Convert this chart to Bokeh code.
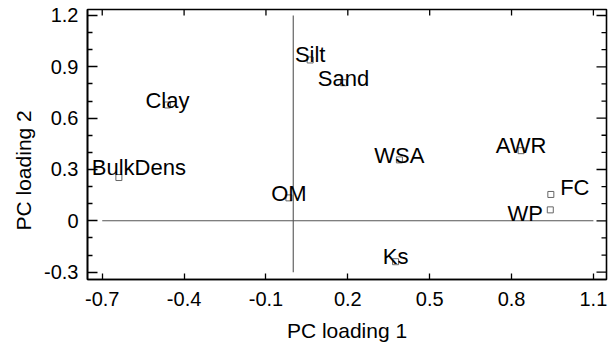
import numpy as np
from bokeh.plotting import figure
from bokeh.models import Range1d, FixedTicker, LinearAxis, ColumnDataSource, Title
from bokeh.embed import file_html
from bokeh.resources import INLINE
from bokeh.core.properties import value

# ---- data ----
variables = ["Clay", "BulkDens", "OM", "Silt", "Sand", "WSA", "AWR", "FC", "WP", "Ks"]
pc1 = [-0.461, -0.639, -0.016, 0.062, 0.184, 0.389, 0.835, 0.944, 0.942, 0.375]
pc2 = [0.677, 0.253, 0.134, 0.940, 0.807, 0.356, 0.410, 0.154, 0.064, -0.239]

x_ticks = [-0.7, -0.4, -0.1, 0.2, 0.5, 0.8, 1.1]
x_tick_labels = ["-0.7", "-0.4", "-0.1", "0.2", "0.5", "0.8", "1.1"]
y_ticks = [-0.3, 0.0, 0.3, 0.6, 0.9, 1.2]
y_tick_labels = ["-0.3", "0", "0.3", "0.6", "0.9", "1.2"]

x_title = "PC loading 1"
y_title = "PC loading 2"

# label placement offsets (pixels)
label_dx = [0, 20, 0, 0, 0, 0, 0, 24, -25, 0]
label_dy = [-4.5, -10, -4.5, -5, -4.7, -4.3, -5, -6.7, 4, -5]

FONT = "Liberation Sans"

y_minor = [round(v, 2) for v in np.arange(y_ticks[0], y_ticks[-1] + 1e-9, 0.1)
           if not any(abs(v - t) < 1e-6 for t in y_ticks)]

src = ColumnDataSource(dict(x=pc1, y=pc2, name=variables, dx=label_dx, dy=label_dy))

X0, X1 = -0.754, 1.148
Y0, Y1 = -0.343, 1.235

p = figure(width=608, height=346, output_backend="svg", toolbar_location=None,
           x_range=Range1d(X0, X1), y_range=Range1d(Y0, Y1),
           min_border_left=87, min_border_right=2, min_border_top=9, min_border_bottom=67,
           x_axis_type=None, y_axis_type=None)
p.grid.visible = False
p.outline_line_color = "black"
p.outline_line_width = 1.6
p.background_fill_color = "white"
p.border_fill_color = "white"

xt = FixedTicker(ticks=x_ticks)
yt = FixedTicker(ticks=y_ticks, minor_ticks=y_minor)

def style_axis(ax, tick_len, minor_len):
    ax.axis_line_color = "black"
    ax.axis_line_width = 1.6
    ax.major_tick_line_color = "black"
    ax.major_tick_line_width = 1.3
    ax.major_tick_in = tick_len
    ax.major_tick_out = 0
    if minor_len:
        ax.minor_tick_line_color = "black"
        ax.minor_tick_line_width = 1.3
        ax.minor_tick_in = minor_len
        ax.minor_tick_out = 0
    else:
        ax.minor_tick_line_color = None
    ax.major_label_text_font = FONT
    ax.major_label_text_font_size = "20px"
    ax.major_label_text_color = "black"

bottom = LinearAxis(ticker=xt, major_label_overrides=dict(zip(x_ticks, x_tick_labels)))
style_axis(bottom, 6, 0)
bottom.major_label_standoff = 12
bottom.axis_label = x_title
bottom.axis_label_text_font = FONT
bottom.axis_label_text_font_size = "21px"
bottom.axis_label_text_font_style = "normal"
bottom.axis_label_text_color = "black"
bottom.axis_label_standoff = 10
p.add_layout(bottom, "below")

left = LinearAxis(ticker=yt, major_label_overrides=dict(zip(y_ticks, y_tick_labels)))
style_axis(left, 10, 5)
left.major_label_standoff = 9
p.add_layout(left, "left")

ytitle = Title(text=y_title, align="left", offset=49, vertical_align="bottom", standoff=14,
               text_font=FONT, text_font_size="21px", text_font_style="normal",
               text_color="black")
p.add_layout(ytitle, "left")

# mirror ticks on the top and right frame edges
p.ray(x=x_ticks, y=[Y1] * len(x_ticks), length=6, length_units="screen",
      angle=-np.pi / 2, line_color="black", line_width=1.3)
p.ray(x=[X1] * len(y_ticks), y=y_ticks, length=10, length_units="screen",
      angle=np.pi, line_color="black", line_width=1.3)
p.ray(x=[X1] * len(y_minor), y=y_minor, length=5, length_units="screen",
      angle=np.pi, line_color="black", line_width=1.3)

# reference lines through the origin, spanning the tick range
p.segment(x0=[x_ticks[0], 0.0], y0=[0.0, y_ticks[0]], x1=[x_ticks[-1], 0.0], y1=[0.0, y_ticks[-1]],
          line_color="#555555", line_width=1.1)

p.scatter("x", "y", source=src, marker="square", size=6, fill_color=None,
          line_color="#666666", line_width=1)

p.text("x", "y", text="name", source=src, x_offset="dx", y_offset="dy",
       text_align="center", text_baseline="alphabetic",
       text_font=value(FONT), text_font_size="22px", text_color="black")

open("out.html", "w").write(file_html(p, INLINE))
